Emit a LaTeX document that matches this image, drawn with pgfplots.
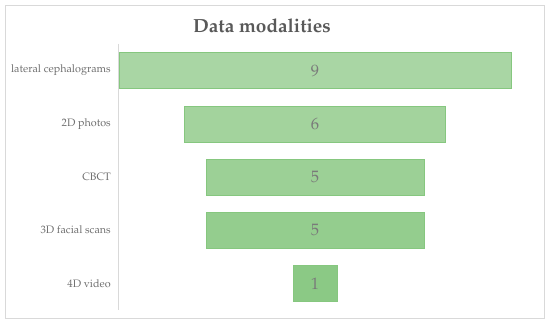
\documentclass[border=0pt]{standalone}
\usepackage[T1]{fontenc}
\usepackage{mathpazo}
\usepackage{pgfplots}
\usepackage{pgfplotstable}
\pgfplotsset{compat=1.18}
\definecolor{c1}{HTML}{A9D6A4}
\definecolor{c2}{HTML}{A3D39D}
\definecolor{c3}{HTML}{9CD096}
\definecolor{c4}{HTML}{94CD8E}
\definecolor{c5}{HTML}{8BC985}
\definecolor{edge}{HTML}{86C77F}
\definecolor{bordergray}{HTML}{D9D9D9}
\definecolor{titlegray}{HTML}{595959}
\definecolor{labelgray}{HTML}{707070}
\definecolor{numgray}{HTML}{7A7A7A}
\pgfplotstableread{
y off v a b c d e mid
0 0   9 9 0 0 0 0 4.5
1 1.5 6 0 6 0 0 0 4.5
2 2   5 0 0 5 0 0 4.5
3 2   5 0 0 0 5 0 4.5
4 4   1 0 0 0 0 1 4.5
}\data
\begin{document}
\begin{tikzpicture}
\useasboundingbox (0pt,0pt) rectangle (550pt,324pt);
\draw[color=bordergray, line width=1pt] (5.5pt,5.5pt) rectangle (544.5pt,318.5pt);
\node[font=\fontsize{19}{22}\selectfont\bfseries, text=titlegray, anchor=base, inner sep=0pt] at (262pt,291pt) {Data modalities};
\begin{axis}[at={(119pt,14pt)}, anchor=south west, scale only axis,
  width=392pt, height=266pt,
  xbar stacked, bar width=36pt,
  xmin=0, xmax=9, ymin=-0.5, ymax=4.5, y dir=reverse,
  axis x line=none, axis y line*=left,
  axis line style={draw=bordergray, line width=1pt},
  ytick={0,1,2,3,4},
  yticklabels={lateral cephalograms, 2D photos, CBCT, 3D facial scans, 4D video},
  major tick length=0pt,
  yticklabel style={font=\fontsize{10.8}{12}\selectfont, text=labelgray, inner sep=0pt, xshift=-8pt},
  clip=false]
\addplot[draw=none, fill=none] table[x=off, y=y]{\data};
\addplot[fill=c1, draw=edge] table[x=a, y=y]{\data};
\addplot[fill=c2, draw=edge] table[x=b, y=y]{\data};
\addplot[fill=c3, draw=edge] table[x=c, y=y]{\data};
\addplot[fill=c4, draw=edge] table[x=d, y=y]{\data};
\addplot[fill=c5, draw=edge] table[x=e, y=y]{\data};
\end{axis}
\begin{axis}[at={(119pt,14pt)}, anchor=south west, scale only axis,
  width=392pt, height=266pt,
  xmin=0, xmax=9, ymin=-0.5, ymax=4.5, y dir=reverse,
  hide axis, clip=false]
\addplot[only marks, mark=none, point meta=explicit, nodes near coords,
  every node near coord/.append style={anchor=center, font=\fontsize{16.5}{18}\selectfont, text=numgray}]
  table[x=mid, y=y, meta=v]{\data};
\end{axis}
\end{tikzpicture}
\end{document}
